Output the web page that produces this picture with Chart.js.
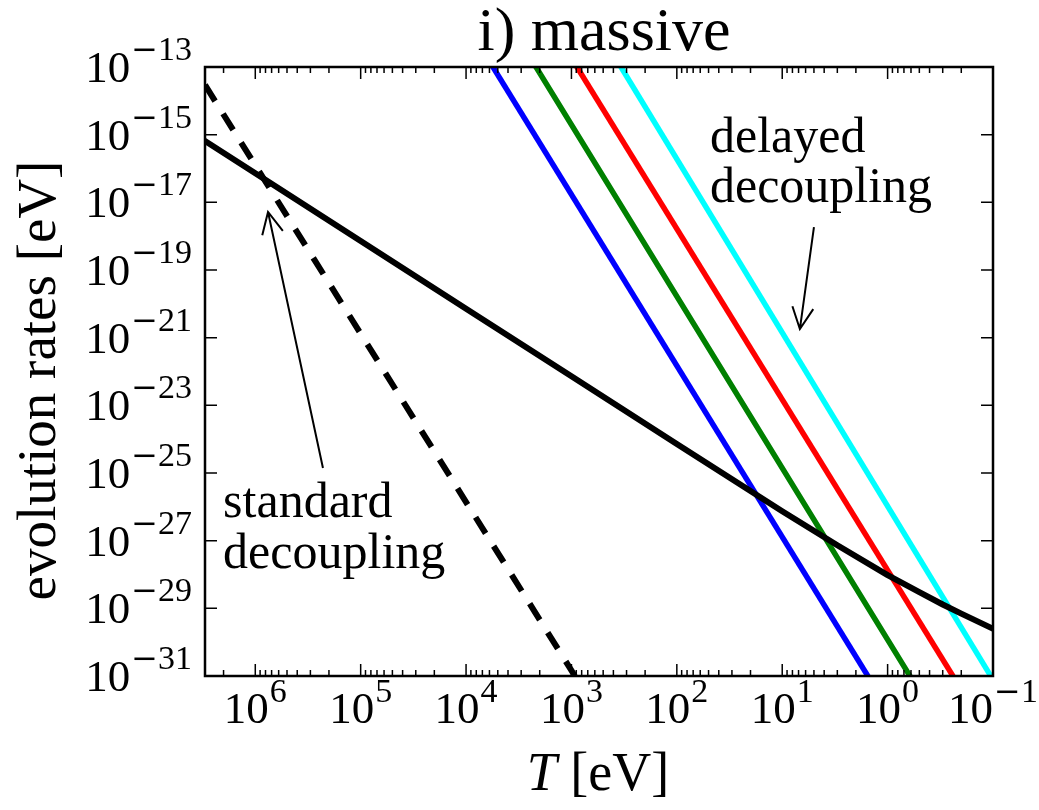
<!DOCTYPE html>
<html><head><meta charset="utf-8">
<script src="https://cdn.jsdelivr.net/npm/chart.js@4.4.1/dist/chart.umd.min.js"></script>
<style>html,body{margin:0;padding:0;background:#fff;}canvas{display:block;}</style>
</head><body>
<canvas id="c" width="1039" height="810"></canvas>
<script>
// ---- data (T in eV, rates in eV) ----
const hubbleT    = [3e6, 1e6, 1e5, 1e4, 1e3, 1e2, 10, 3, 1, 0.5, 0.3, 0.2, 0.1];
const hubbleRate = [6.5e-16, 7.2e-17, 7.2e-19, 7.2e-21, 7.2e-23, 7.2e-25, 7.4e-27, 7.3e-28, 9.6e-29, 3.0e-29, 1.3e-29, 7.0e-30, 2.5e-30];
const standardT    = [3e6, 927];
const standardRate = [2.95e-14, 1e-31];
const blueT    = [5560, 1.54];
const greenT   = [2170, 0.614];
const redT     = [887, 0.24];
const cyanT    = [339, 0.105];
const delayedRate = [1e-13, 1e-31];

const xMajorTicks = [1e6, 1e5, 1e4, 1e3, 1e2, 1e1, 1e0, 1e-1];
const xTickExp    = ['6', '5', '4', '3', '2', '1', '0', '\u22121'];
const yMajorTicks = [1e-13, 1e-15, 1e-17, 1e-19, 1e-21, 1e-23, 1e-25, 1e-27, 1e-29, 1e-31];
const yTickExp    = ['\u221213', '\u221215', '\u221217', '\u221219', '\u221221', '\u221223', '\u221225', '\u221227', '\u221229', '\u221231'];

const titleText = 'i) massive';
const yLabelText = 'evolution rates [eV]';
const xLabelVar = 'T';
const xLabelUnit = ' [eV]';
const delayedText = ['delayed', 'decoupling'];
const standardText = ['standard', 'decoupling'];
const delayedTextAt = {x: 48.5, y: 3.1e-16};
const standardTextAt = {x: 2.02e6, y: 5.0e-27};
const delayedArrow = {from: {x: 5.0, y: 1.86e-18}, to: {x: 6.8, y: 1.8e-21}};
const standardArrow = {from: {x: 2.28e5, y: 1.4e-25}, to: {x: 7.57e5, y: 5.2e-18}};

const FONT = '"Liberation Serif", "Times New Roman", serif';
const SIGNFONT = '32px "DejaVu Serif", serif';

function pts(xs, ys) { return xs.map((x, i) => ({x: x, y: ys[i]})); }

const overlay = {
  id: 'overlay',
  afterDatasetsDraw(chart) {
    const ctx = chart.ctx, xs = chart.scales.x, ys = chart.scales.y, a = chart.chartArea;
    ctx.save();
    ctx.strokeStyle = '#000';
    ctx.fillStyle = '#000';
    // ticks (inward)
    ctx.lineWidth = 1.5;
    ctx.beginPath();
    xMajorTicks.forEach(v => {
      const px = xs.getPixelForValue(v);
      ctx.moveTo(px, a.bottom); ctx.lineTo(px, a.bottom - 12);
      ctx.moveTo(px, a.top); ctx.lineTo(px, a.top + 12);
    });
    for (let d = -1; d <= 6; d++) {
      for (let k = 2; k <= 9; k++) {
        const v = k * Math.pow(10, d);
        if (v <= xs.min || v >= xs.max) continue;
        const px = xs.getPixelForValue(v);
        ctx.moveTo(px, a.bottom); ctx.lineTo(px, a.bottom - 6);
        ctx.moveTo(px, a.top); ctx.lineTo(px, a.top + 6);
      }
    }
    yMajorTicks.forEach(v => {
      const py = ys.getPixelForValue(v);
      ctx.moveTo(a.left, py); ctx.lineTo(a.left + 12, py);
      ctx.moveTo(a.right, py); ctx.lineTo(a.right - 12, py);
    });
    ctx.stroke();
    // frame
    ctx.lineWidth = 2.5;
    ctx.strokeRect(a.left, a.top, a.right - a.left, a.bottom - a.top);

    // tick labels: "10" with raised exponent
    const baseFont = '45px ' + FONT, expFont = '34px ' + FONT;
    ctx.textBaseline = 'alphabetic';
    ctx.textAlign = 'left';
    function expWidth(e) {
      let w = 0, s = e;
      if (s.charAt(0) === '\u2212') { ctx.font = SIGNFONT; w += ctx.measureText('\u2212').width; s = s.slice(1); }
      ctx.font = expFont; w += ctx.measureText(s).width;
      return w;
    }
    function drawLabel(e, x0, baseY, expY) {
      ctx.font = baseFont; const w1 = ctx.measureText('10').width;
      ctx.fillText('10', x0, baseY);
      let x = x0 + w1 + 1, s = e;
      if (s.charAt(0) === '\u2212') {
        ctx.font = SIGNFONT; ctx.fillText('\u2212', x, expY);
        x += ctx.measureText('\u2212').width; s = s.slice(1);
      }
      ctx.font = expFont; ctx.fillText(s, x, expY);
    }
    ctx.font = baseFont; const wTen = ctx.measureText('10').width;
    xMajorTicks.forEach((v, i) => {
      const px = xs.getPixelForValue(v);
      const w = wTen + 1 + expWidth(xTickExp[i]);
      drawLabel(xTickExp[i], px - w / 2, a.bottom + 47, a.bottom + 26);
    });
    yMajorTicks.forEach((v, i) => {
      const py = ys.getPixelForValue(v);
      const w = wTen + 1 + expWidth(yTickExp[i]);
      drawLabel(yTickExp[i], a.left - 13 - w, py + 15, py - 7);
    });

    // title
    ctx.font = '62px ' + FONT;
    ctx.textAlign = 'center';
    ctx.fillText(titleText, (a.left + a.right) / 2 + 5, 50);

    // x label with italic T
    ctx.textAlign = 'left';
    ctx.font = 'italic 54px ' + FONT; const wT = ctx.measureText(xLabelVar).width;
    ctx.font = '54px ' + FONT; const wU = ctx.measureText(xLabelUnit).width;
    const xl0 = 598 - (wT + wU) / 2;
    ctx.font = 'italic 54px ' + FONT; ctx.fillText(xLabelVar, xl0, 790);
    ctx.font = '54px ' + FONT; ctx.fillText(xLabelUnit, xl0 + wT, 790);

    // y label
    ctx.save();
    ctx.translate(55, (a.top + a.bottom) / 2 + 9);
    ctx.rotate(-Math.PI / 2);
    ctx.textAlign = 'center';
    ctx.font = '55px ' + FONT;
    ctx.fillText(yLabelText, 0, 0);
    ctx.restore();

    // annotations
    ctx.font = '50px ' + FONT;
    ctx.textAlign = 'left';
    const dx = xs.getPixelForValue(delayedTextAt.x), dy = ys.getPixelForValue(delayedTextAt.y);
    delayedText.forEach((t, i) => ctx.fillText(t, dx, dy + i * 50));
    const sx = xs.getPixelForValue(standardTextAt.x), sy = ys.getPixelForValue(standardTextAt.y);
    standardText.forEach((t, i) => ctx.fillText(t, sx, sy + i * 51));

    function arrow(ar) {
      const x1 = xs.getPixelForValue(ar.from.x), y1 = ys.getPixelForValue(ar.from.y);
      const x2 = xs.getPixelForValue(ar.to.x), y2 = ys.getPixelForValue(ar.to.y);
      const ang = Math.atan2(y1 - y2, x1 - x2);
      const L = 24, h = 26 * Math.PI / 180;
      ctx.lineWidth = 2;
      ctx.lineCap = 'butt';
      ctx.beginPath();
      ctx.moveTo(x1, y1); ctx.lineTo(x2, y2);
      ctx.moveTo(x2 + L * Math.cos(ang + h), y2 + L * Math.sin(ang + h));
      ctx.lineTo(x2, y2);
      ctx.lineTo(x2 + L * Math.cos(ang - h), y2 + L * Math.sin(ang - h));
      ctx.stroke();
    }
    arrow(delayedArrow);
    arrow(standardArrow);
    ctx.restore();
  }
};

const lineDs = (label, data, color, width, order, extra) => Object.assign({
  label: label, data: data, showLine: true, borderColor: color, backgroundColor: color,
  borderWidth: width, pointRadius: 0, pointHoverRadius: 0, fill: false, tension: 0,
  clip: 0, order: order, borderCapStyle: 'square', borderJoinStyle: 'round'
}, extra || {});

new Chart(document.getElementById('c'), {
  type: 'scatter',
  data: {
    datasets: [
      lineDs('Hubble rate', pts(hubbleT, hubbleRate), '#000000', 6, 0),
      lineDs('standard decoupling', pts(standardT, standardRate), '#000000', 6, 1, {borderDash: [19, 15], borderCapStyle: 'butt'}),
      lineDs('blue', pts(blueT, delayedRate), '#0000ff', 5.5, 2),
      lineDs('green', pts(greenT, delayedRate), '#008000', 5.5, 2),
      lineDs('red', pts(redT, delayedRate), '#ff0000', 5.5, 2),
      lineDs('cyan', pts(cyanT, delayedRate), '#00ffff', 5.5, 2)
    ]
  },
  options: {
    responsive: false,
    animation: false,
    events: [],
    layout: {padding: {left: 205, right: 46, top: 67, bottom: 134}},
    plugins: {legend: {display: false}, tooltip: {enabled: false}, title: {display: false}},
    scales: {
      x: {type: 'logarithmic', min: 0.1, max: 3e6, reverse: true, display: false},
      y: {type: 'logarithmic', min: 1e-31, max: 1e-13, display: false}
    }
  },
  plugins: [overlay]
});
</script>
</body></html>
